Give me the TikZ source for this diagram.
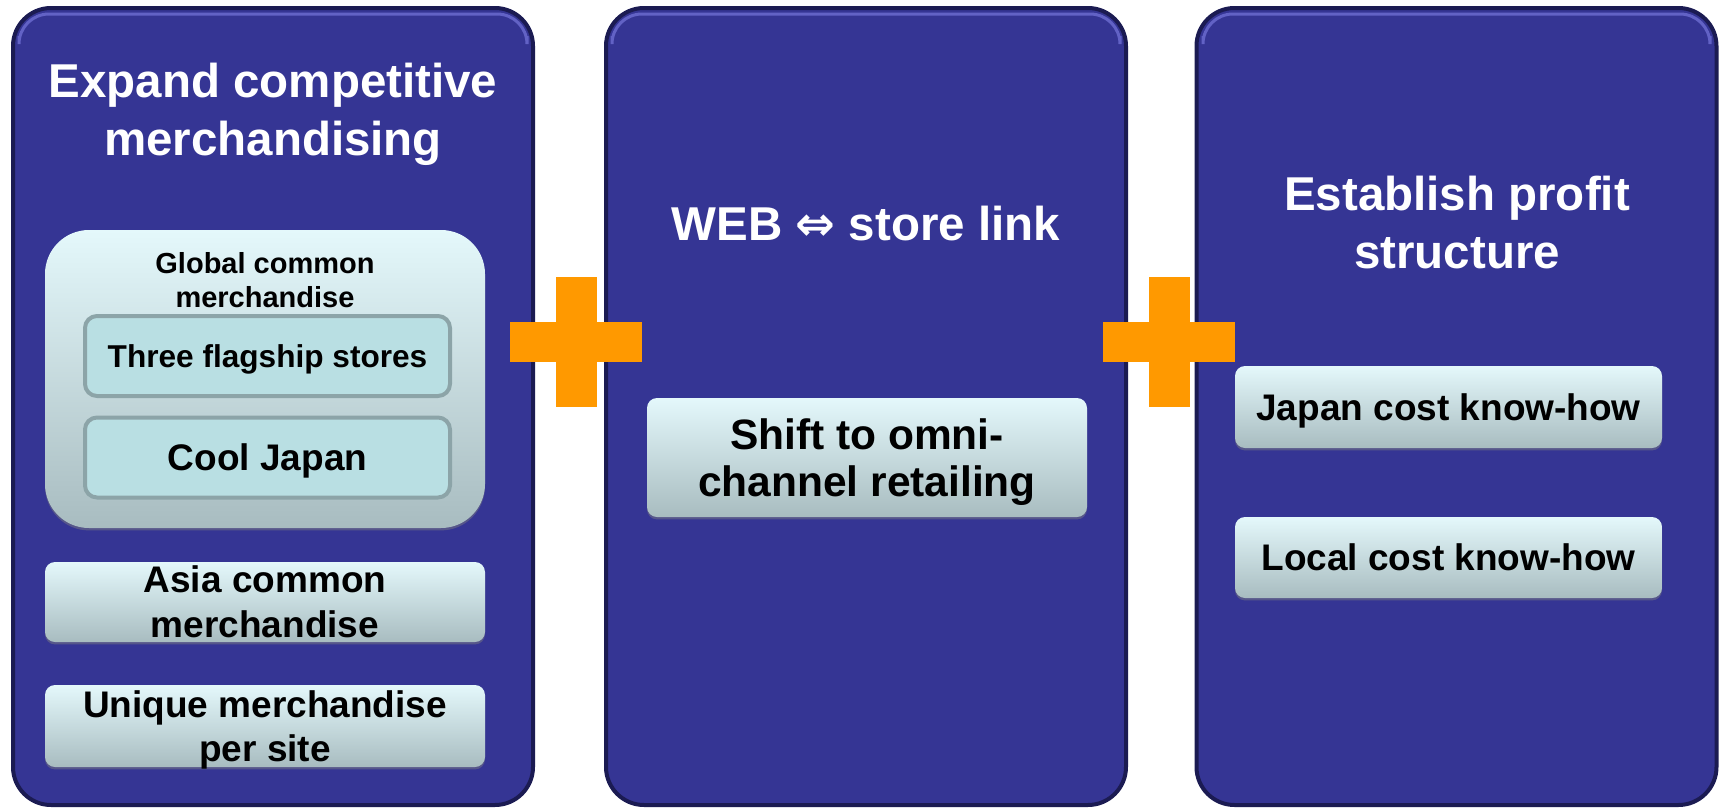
\documentclass[tikz,border=0pt]{standalone}
\usepackage{fontspec}
\setmainfont{Liberation Sans}
\newfontfamily\arrowfont{DejaVu Sans}
\usetikzlibrary{positioning,shadows}

\definecolor{panelblue}{HTML}{353594}
\definecolor{paneledge}{HTML}{1B1B52}
\definecolor{panelhi}{HTML}{6E6ED2}
\definecolor{glosstop}{HTML}{E4F8FB}
\definecolor{glossbot}{HTML}{A8BCC0}
\definecolor{innerfill}{HTML}{B9DFE3}
\definecolor{inneredge}{HTML}{8CA4A8}
\definecolor{plusorange}{HTML}{FF9900}

\tikzset{
  panel/.style={draw=paneledge, line width=2pt, fill=panelblue, rounded corners=19pt,
    minimum width=260pt, minimum height=398.5pt, inner sep=0pt},
  tophi/.style={draw=panelhi, line width=1.5pt, rounded corners=15pt, opacity=0.8},
  title/.style={text=white, align=center, inner sep=0pt, anchor=base,
    font=\fontsize{23.75}{29}\selectfont\bfseries},
  glossbox/.style={top color=glosstop, bottom color=glossbot, rounded corners=5pt,
    inner sep=0pt, align=center, text depth=0pt,
    drop shadow={shadow xshift=0pt, shadow yshift=-1.2pt, opacity=0.45}},
  innerbox/.style={draw=inneredge, line width=2pt, fill=innerfill, rounded corners=6pt,
    minimum width=182.5pt, minimum height=40pt, inner sep=0pt, text depth=0pt},
  plusbar/.style={fill=plusorange, inner sep=0pt},
}

\begin{document}
\begin{tikzpicture}[x=0.5pt,y=-0.5pt]
\useasboundingbox (0,0) rectangle (1721,809);

% three columns
\node (p1) [panel] at (273,406.5) {};
\node (p2) [panel] at (866,406.5) {};
\node (p3) [panel] at (1456.5,406.5) {};
\foreach \xl/\xr in {11/535,604/1128,1195/1718} {
\draw[tophi] (\xl+8,36) -- (\xl+8,14) -- (\xr-8,14) -- (\xr-8,36);
}

% multi-line titles sit on their last baseline
\node (t1) [title] at (273,155) {Expand competitive\\merchandising};
\node (t2) [title] at (866,240) {WEB {\arrowfont ⇔} store link};
\node (t3) [title] at (1457,268) {Establish profit\\structure};

% left column
\node (gcm) [glossbox, rounded corners=22pt, minimum width=220pt, minimum height=149pt] at (265,379) {};
\node (gcmlabel) [align=center, inner sep=0pt, anchor=base,
  font=\fontsize{14.5}{17}\selectfont\bfseries] at (265,307) {Global common\\merchandise};
\node (flag) [innerbox, font=\fontsize{15.8}{19}\selectfont\bfseries] at (267.5,356) {Three flagship stores};
\node (cool) [innerbox, font=\fontsize{18.5}{22}\selectfont\bfseries] at (267.5,457.5) {Cool Japan};
\node (asia) [glossbox, minimum width=220pt, minimum height=40pt,
  font=\fontsize{18.5}{22.5}\selectfont\bfseries] at (265,602) {Asia common\\merchandise};
\node (uniq) [glossbox, minimum width=220pt, minimum height=41pt,
  font=\fontsize{18.5}{22}\selectfont\bfseries] at (265,726) {Unique merchandise\\per site};

% middle column
\node (omni) [glossbox, minimum width=220pt, minimum height=59.5pt,
  font=\fontsize{21.25}{23.5}\selectfont\bfseries] at (867,457.5) {Shift to omni-\\channel retailing};

% right column
\node (jpcost) [glossbox, minimum width=213.5pt, minimum height=41pt,
  font=\fontsize{18.5}{21}\selectfont\bfseries] at (1448.5,407) {Japan cost know-how};
\node (lccost) [glossbox, minimum width=213.5pt, minimum height=40.5pt,
  font=\fontsize{18.5}{21}\selectfont\bfseries] at (1448.5,557.5) {Local cost know-how};

% plus signs
\foreach \cx [count=\i] in {576,1169} {
\node (plus\i h) [plusbar, minimum width=66pt, minimum height=20pt] at (\cx,342) {};
\node (plus\i v) [plusbar, minimum width=20.5pt, minimum height=65pt] at (\cx,342) {};
}
\end{tikzpicture}
\end{document}
